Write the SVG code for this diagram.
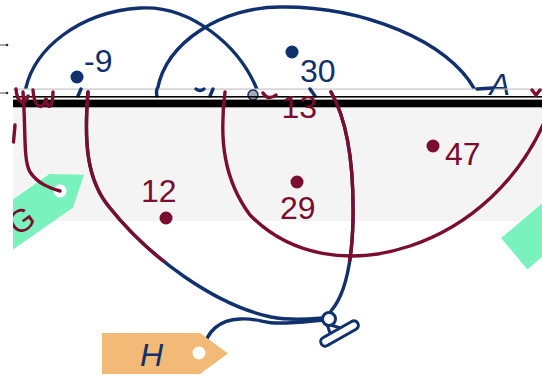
<svg xmlns="http://www.w3.org/2000/svg" width="542" height="382" viewBox="0 0 542 382">
  <style>
    .nv{fill:none;stroke:#10306e;stroke-width:3.4;stroke-linecap:round}
    .mr{fill:none;stroke:#7b0d2e;stroke-width:3.4;stroke-linecap:round}
    .tn{font-family:"Liberation Sans",Arial,sans-serif;font-size:32px;fill:#10306e}
    .tm{font-family:"Liberation Sans",Arial,sans-serif;font-size:32px;fill:#7b0d2e}
    .dn{fill:#10306e}
    .dm{fill:#7b0d2e}
    .tick{stroke:#555;stroke-width:1}
  </style>
  <defs>
    <clipPath id="top"><rect x="0" y="0" width="542" height="89"/></clipPath>
    <clipPath id="topA"><rect x="0" y="0" width="542" height="95"/></clipPath>
    <clipPath id="left13"><rect x="13" y="0" width="529" height="382"/></clipPath>
    <clipPath id="upper"><rect x="0" y="0" width="542" height="262"/></clipPath>
    <polygon id="tagshape" points="102,333 200,333 228,353.5 200,374 102,374"/>
  </defs>
  <rect width="542" height="382" fill="#fff"/>

  <g id="ticks">
    <line class="tick" x1="0" y1="45" x2="6" y2="45"/><circle cx="7" cy="45" r="1.3" fill="#333"/>
    <line class="tick" x1="0" y1="93" x2="6" y2="93"/><circle cx="7" cy="93" r="1.3" fill="#333"/>
  </g>

  <g id="connectors">
    <g clip-path="url(#top)">
      <path class="nv" d="M25 92 C33 48 80 12 140 8 C190 5 240 45 258 92"/>
      <path class="nv" d="M157 92 C165 40 225 7 280 7 C360 6 450 40 476 92"/>
    </g>
    <g clip-path="url(#topA)">
      <text class="tn" x="489" y="96" font-style="italic">A</text>
    </g>
  </g>
  <g id="node-m9"><circle class="dn" cx="77" cy="77" r="6.5"/><text class="tn" x="84" y="71.5">-9</text></g>
  <g id="node-30"><circle class="dn" cx="292" cy="52" r="6.5"/><text class="tn" x="300" y="81.5">30</text></g>

  <g id="strip">
    <rect x="13" y="88.5" width="529" height="1.2" fill="#c4c4c4"/>
    <path class="nv" stroke-width="2.5" d="M78 96 L81 89 M157 89 Q156 93 157 96 M196 89 Q200 92 204 89 M210 96 L213 89 M310 89 L315 96 M477 89 L493 88"/>
    <circle cx="253" cy="95" r="5" fill="#a9a9b3" stroke="#10306e" stroke-width="1.5"/>
    <rect x="13" y="96" width="529" height="1.6" fill="#000"/>
    <rect x="13" y="99.6" width="529" height="7.4" fill="#000"/>
    <rect x="13" y="107" width="529" height="1" fill="#a8a8a8"/>
  </g>

  <rect id="band" x="13" y="108" width="529" height="113" fill="#f4f4f4"/>

  <g id="balloon-lines">
    <path class="nv" d="M88 92 C84 140 86 180 110 208 C150 258 215 305 271 317 C292 321 310 319 323 318"/>
    <path class="nv" d="M331 92 C347 120 354 165 353 220 C352 262 345 295 331 311"/>
    <path class="nv" d="M203 350 C207 332 218 320 240 319 C255 318 262 322 271 322.7 C290 324 310 321 323 320"/>
  </g>
  <g id="knot">
    <path d="M327 324 L331 336 L344 329 Z" fill="#fff" stroke="#10306e" stroke-width="3" stroke-linejoin="round"/>
    <circle cx="329" cy="319" r="6.5" fill="#fff" stroke="#10306e" stroke-width="3"/>
    <rect x="318.5" y="329" width="42" height="9" rx="4.5" transform="rotate(-29.6 339.5 333.5)" fill="#fff" stroke="#10306e" stroke-width="3"/>
  </g>
  <g id="tag-H">
    <use href="#tagshape" fill="#f2b977"/>
    <circle cx="199" cy="353" r="6.5" fill="#fff"/>
    <text class="tn" x="140" y="366" font-style="italic">H</text>
  </g>

  <g id="tag-G" clip-path="url(#left13)">
    <g transform="translate(60,191) rotate(-35) translate(-199,-353)">
      <use href="#tagshape" fill="#7af2bd"/>
      <circle cx="199" cy="353" r="6.5" fill="#fff"/>
      <text class="tm" x="138" y="366">G</text>
    </g>
  </g>
  <g id="tag-right">
    <g transform="translate(501,238) rotate(-40) translate(-102,-333)">
      <use href="#tagshape" fill="#7af2bd"/>
    </g>
  </g>
  <g id="maroon-connectors">
    <g clip-path="url(#upper)">
      <path class="mr" d="M88 92 C84 140 86 180 110 208 C150 258 215 305 271 317"/>
      <path class="mr" d="M331 92 C347 120 354 165 353 220 C352 262 345 295 331 311"/>
    </g>
    <path class="mr" d="M225 92 C219 140 224 180 250 215 C290 256 350 266 410 246 C470 226 520 180 546 118"/>
    <path class="mr" d="M23 92 C26 130 23 160 30 172 C38 184 50 188 60 191"/>
    <path class="mr" stroke-width="2.5" d="M15 125 L13.5 142"/>
    <path class="mr" stroke-width="2.5" d="M16 89 C17 102 24 108 28 96 M33 90 C34 108 44 112 46 98 C47 110 53 110 53 92 M263 93 Q268 101 276 95 M532 90 L536 95 L540 90"/>
  </g>
  <g id="node-13"><text class="tm" x="281.5" y="118">13</text></g>
  <g id="node-12"><circle class="dm" cx="166" cy="218" r="6.5"/><text class="tm" x="141" y="202">12</text></g>
  <g id="node-29"><circle class="dm" cx="297" cy="182" r="6.5"/><text class="tm" x="280" y="219">29</text></g>
  <g id="node-47"><circle class="dm" cx="433" cy="146" r="6.5"/><text class="tm" x="445" y="165">47</text></g>
</svg>
